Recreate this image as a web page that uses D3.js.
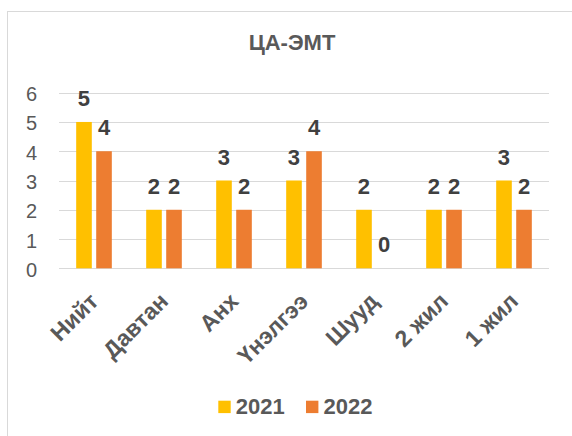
<!DOCTYPE html>
<html>
<head>
<meta charset="utf-8">
<script src="https://cdn.jsdelivr.net/npm/d3@7"></script>
<style>
  body { margin: 0; background: #fff; }
  svg { display: block; }
</style>
</head>
<body>
<svg id="chart" width="572" height="436"></svg>
<script>
const title = "ЦА-ЭМТ";
const categories = ["Нийт", "Давтан", "Анх", "Үнэлгээ", "Шууд", "2 жил", "1 жил"];
const seriesNames = ["2021", "2022"];
const values2021 = [5, 2, 3, 3, 2, 2, 3];
const values2022 = [4, 2, 2, 4, 0, 2, 2];
const yTicks = [0, 1, 2, 3, 4, 5, 6];
const colors = ["#FFC000", "#ED7D31"];

const series = [values2021, values2022];
const svg = d3.select("#chart");
const font = "'Liberation Sans', Arial, sans-serif";

// frame
svg.append("rect")
  .attr("x", 7.5).attr("y", 11.5)
  .attr("width", 600).attr("height", 500)
  .attr("fill", "#fff").attr("stroke", "#d9d9d9").attr("stroke-width", 1);

const x0 = d3.scaleBand().domain(categories).range([59, 549]).paddingInner(0).paddingOuter(0);
const y = d3.scaleLinear().domain([0, 6]).range([268.3, 92.7]);

const bw = x0.bandwidth();
const barW = bw * 0.223;
const barGap = bw * 0.063;
const x1 = d3.scaleBand().domain([0, 1]).range([bw / 2 - barW - barGap / 2, bw / 2 + barW + barGap / 2]).paddingInner(barGap / (barW + barGap));

// title
svg.append("text")
  .attr("x", 292).attr("y", 50)
  .attr("text-anchor", "middle")
  .attr("font-family", font).attr("font-weight", "bold").attr("font-size", 22)
  .attr("fill", "#595959")
  .text(title);

// gridlines
svg.append("g").selectAll("line").data(yTicks).join("line")
  .attr("x1", 59).attr("x2", 549)
  .attr("y1", d => Math.round(y(d)) + 0.5).attr("y2", d => Math.round(y(d)) + 0.5)
  .attr("stroke", "#d9d9d9").attr("stroke-width", 1.2);

// y axis labels
const yAxis = d3.axisLeft(y).tickValues(yTicks).tickSize(0).tickPadding(0).tickFormat(d3.format("d"));
const yg = svg.append("g").attr("transform", "translate(37,0)").call(yAxis);
yg.select(".domain").remove();
yg.selectAll("text")
  .attr("font-family", font).attr("font-size", 20).attr("fill", "#595959")
  .attr("dy", "0.4em");

// bars
const groups = svg.append("g").selectAll("g").data(categories).join("g")
  .attr("transform", d => `translate(${x0(d)},0)`);

groups.selectAll("rect").data((d, i) => series.map((s, k) => ({ k, v: s[i] }))).join("rect")
  .attr("x", d => x1(d.k))
  .attr("width", x1.bandwidth())
  .attr("y", d => y(d.v))
  .attr("height", d => y(0) - y(d.v))
  .attr("fill", d => colors[d.k]);

groups.selectAll("text.val").data((d, i) => series.map((s, k) => ({ k, v: s[i] }))).join("text")
  .attr("class", "val")
  .attr("x", d => x1(d.k) + x1.bandwidth() / 2)
  .attr("y", d => y(d.v) - 16)
  .attr("text-anchor", "middle")
  .attr("font-family", font).attr("font-weight", "bold").attr("font-size", 22)
  .attr("fill", "#404040")
  .text(d => d.v);

// category labels
const xAxis = d3.axisBottom(x0).tickSize(0).tickPadding(0);
const xg = svg.append("g").call(xAxis);
xg.select(".domain").remove();
xg.selectAll(".tick text")
  .attr("font-family", font).attr("font-weight", "bold").attr("font-size", 23)
  .attr("fill", "#595959")
  .attr("text-anchor", "end")
  .attr("y", 0).attr("dy", "0.35em")
  .attr("transform", "translate(0,297) rotate(-45)");

// legend
const legend = svg.append("g");
const legItems = [{ name: seriesNames[0], c: colors[0], sx: 218.3 }, { name: seriesNames[1], c: colors[1], sx: 306 }];
legItems.forEach(it => {
  legend.append("rect").attr("x", it.sx).attr("y", 400.7).attr("width", 12.4).attr("height", 12.4).attr("fill", it.c);
  legend.append("text").attr("x", it.sx + 17.5).attr("y", 414.3)
    .attr("font-family", font).attr("font-weight", "bold").attr("font-size", 22)
    .attr("fill", "#595959").text(it.name);
});
</script>
</body>
</html>
